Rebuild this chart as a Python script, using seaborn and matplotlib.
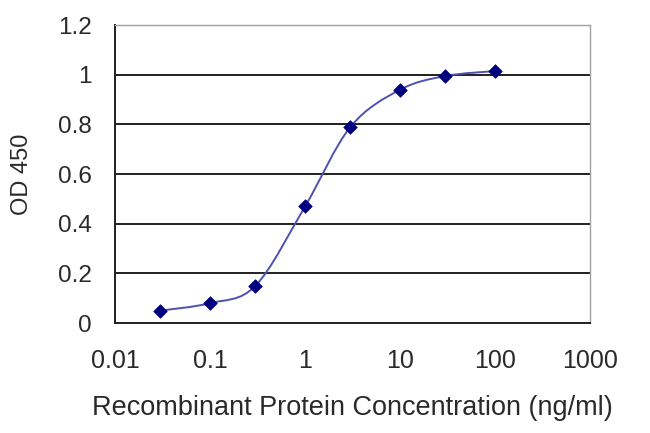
import numpy as np
import pandas as pd
import seaborn as sns
import matplotlib
matplotlib.use("Agg")
import matplotlib.pyplot as plt
from matplotlib.path import Path
from matplotlib.patches import PathPatch
from matplotlib.ticker import FixedLocator, FixedFormatter, NullLocator

# data
conc = [0.03, 0.1, 0.3, 1, 3, 10, 30, 100]
od450 = [0.05, 0.08, 0.15, 0.47, 0.79, 0.94, 0.995, 1.015]
x_ticks = [0.01, 0.1, 1, 10, 100, 1000]
x_tick_labels = ["0.01", "0.1", "1", "10", "100", "1000"]
y_ticks = [0, 0.2, 0.4, 0.6, 0.8, 1.0, 1.2]
y_tick_labels = ["0", "0.2", "0.4", "0.6", "0.8", "1", "1.2"]

df = pd.DataFrame({"conc": conc, "od": od450})

sns.set_theme(style="white")
plt.rcParams["font.family"] = ["Liberation Sans", "DejaVu Sans"]

fig = plt.figure(figsize=(6.5, 4.33), dpi=100)
ax = fig.add_axes([0.177, 0.254, 0.731, 0.688])
ax.set_xscale("log")

# smoothed connecting line (excel style, catmull-rom in log-x space)
lx = np.log10(df["conc"].values)
ly = df["od"].values
verts = [(lx[0], ly[0])]
codes = [Path.MOVETO]
n = len(lx)
for i in range(n - 1):
    p0 = (lx[max(i - 1, 0)], ly[max(i - 1, 0)])
    p1 = (lx[i], ly[i])
    p2 = (lx[i + 1], ly[i + 1])
    p3 = (lx[min(i + 2, n - 1)], ly[min(i + 2, n - 1)])
    c1 = (p1[0] + (p2[0] - p0[0]) / 6, p1[1] + (p2[1] - p0[1]) / 6)
    c2 = (p2[0] - (p3[0] - p1[0]) / 6, p2[1] - (p3[1] - p1[1]) / 6)
    verts += [c1, c2, p2]
    codes += [Path.CURVE4] * 3
verts = [(10 ** vx, vy) for vx, vy in verts]
ax.add_patch(PathPatch(Path(verts, codes), facecolor="none",
                       edgecolor="#5050b0", lw=1.4, zorder=3))

sns.scatterplot(data=df, x="conc", y="od", marker="D", s=48, color="#00007f",
                edgecolor="#00007f", linewidth=0.5, ax=ax, zorder=4)

ax.set_xlim(0.01, 1000)
ax.set_ylim(0, 1.2)
ax.xaxis.set_major_locator(FixedLocator(x_ticks))
ax.xaxis.set_major_formatter(FixedFormatter(x_tick_labels))
ax.xaxis.set_minor_locator(NullLocator())
ax.set_yticks(y_ticks)
ax.set_yticklabels(y_tick_labels)

for y in y_ticks[1:-1]:
    ax.axhline(y, color="#202020", lw=1.4, zorder=1)

for side in ["left", "bottom"]:
    ax.spines[side].set_color("#202020")
    ax.spines[side].set_linewidth(1.4)
for side in ["top", "right"]:
    ax.spines[side].set_color("#a0a0a0")
    ax.spines[side].set_linewidth(1.0)

txt = "#2a2a2a"
ax.tick_params(axis="x", direction="in", length=5, width=1.2, color="#202020",
               labelsize=18, labelcolor=txt, pad=19)
ax.tick_params(axis="y", direction="out", length=0, labelsize=17.5,
               labelcolor=txt, pad=17)

ax.set_xlabel("Recombinant Protein Concentration (ng/ml)", fontsize=19.5,
              color=txt)
ax.set_ylabel("OD 450", fontsize=17, color=txt)
ax.xaxis.set_label_coords(0.5, -0.24)
ax.yaxis.set_label_coords(-0.172, 0.5)

fig.savefig("out.png", dpi=100)
